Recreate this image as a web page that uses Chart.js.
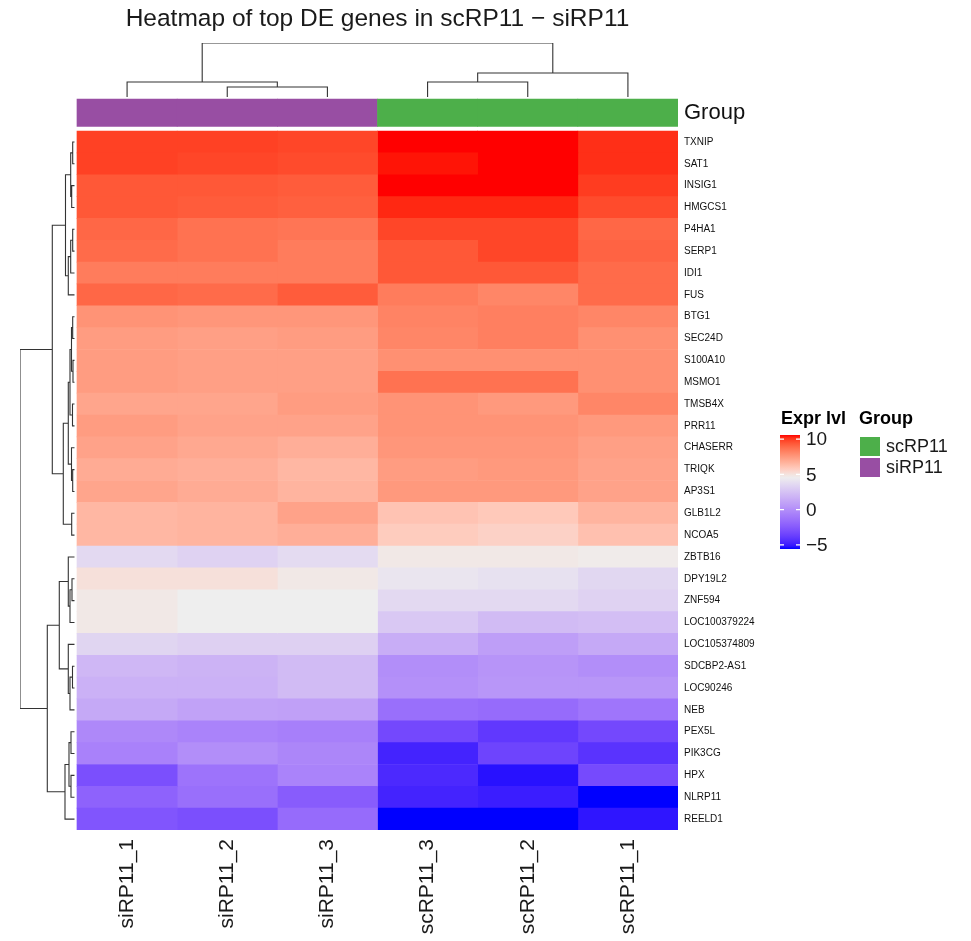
<!DOCTYPE html>
<html><head><meta charset="utf-8">
<script src="https://cdn.jsdelivr.net/npm/chart.js@4/dist/chart.umd.min.js"></script>
<style>html,body{margin:0;padding:0;background:#fff}canvas{display:block}</style>
</head><body>
<canvas id="c" width="971" height="941"></canvas>
<script>
// ---------------- data ----------------
const chartTitle = "Heatmap of top DE genes in scRP11 \u2212 siRP11";
const genes = ["TXNIP","SAT1","INSIG1","HMGCS1","P4HA1","SERP1","IDI1","FUS","BTG1","SEC24D","S100A10","MSMO1","TMSB4X","PRR11","CHASERR","TRIQK","AP3S1","GLB1L2","NCOA5","ZBTB16","DPY19L2","ZNF594","LOC100379224","LOC105374809","SDCBP2-AS1","LOC90246","NEB","PEX5L","PIK3CG","HPX","NLRP11","REELD1"];
const samples = ["siRP11_1","siRP11_2","siRP11_3","scRP11_3","scRP11_2","scRP11_1"];
const sampleGroups = ["siRP11","siRP11","siRP11","scRP11","scRP11","scRP11"];
const groupNames = ["scRP11","siRP11"];
const groupColors = ["#4DAF4A","#984EA3"];

const siRP11_1 = [9.9,9.9,9.4,9.4,9.0,8.9,8.4,9.0,7.7,7.4,7.4,7.4,7.1,7.4,7.2,6.9,7.1,6.5,6.5,3.6,5.1,4.8,4.8,3.4,2.0,1.7,1.3,-0.3,-0.6,-3.0,-2.1,-2.7];
const siRP11_2 = [9.9,9.8,9.4,9.3,8.7,8.7,8.4,8.9,7.6,7.3,7.3,7.3,7.1,7.2,7.0,6.8,6.9,6.6,6.6,3.3,5.1,4.6,4.6,3.2,1.8,1.7,1.0,-0.5,0.0,-1.3,-1.5,-3.0];
const siRP11_3 = [9.8,9.7,9.3,9.2,8.6,8.4,8.4,9.3,7.6,7.4,7.3,7.3,7.4,7.2,6.8,6.5,6.6,7.2,6.8,3.7,4.8,4.6,4.6,3.2,2.2,2.2,0.9,-0.7,-0.4,-0.5,-2.4,-1.7];
const scRP11_3 = [10.6,10.5,10.6,10.3,9.8,9.4,9.4,8.4,8.2,8.1,7.8,8.7,7.7,7.7,7.6,7.4,7.5,6.1,5.8,4.8,4.2,3.6,2.8,1.5,0.0,0.1,-1.5,-3.3,-4.8,-4.6,-4.8,-5.6];
const scRP11_2 = [10.6,10.6,10.6,10.3,9.8,9.8,9.4,8.1,8.3,8.3,7.8,8.7,7.5,7.7,7.6,7.5,7.5,5.9,5.6,4.8,4.0,3.6,2.2,0.8,0.3,0.4,-1.7,-4.0,-3.5,-5.3,-5.0,-5.6];
const scRP11_1 = [10.2,10.2,10.0,9.7,9.0,9.1,8.9,8.9,8.1,7.8,7.8,7.8,8.1,7.5,7.3,7.2,7.2,6.6,6.2,4.7,3.5,3.3,2.3,1.3,0.0,0.4,-1.2,-3.3,-4.2,-3.2,-5.6,-5.2];
const sampleValues = [siRP11_1, siRP11_2, siRP11_3, scRP11_3, scRP11_2, scRP11_1];

// colour mapping (breaks -> colours), legend ticks
const colorBreaks = [-5.6, 4.6, 10.6];
const colorStops = ["#0000FF", "#EEEEEE", "#FF0000"];
const legendTicks = [10, 5, 0, -5];
const legendTitle = "Expr lvl";
const groupLegendTitle = "Group";

// row dendrogram (hclust style merge matrix: negative = leaf in display order, positive = earlier merge)
const rowMerge = [[-1,-2],[-3,-4],[1,2],[-5,-6],[4,-7],[5,-8],[3,6],[-9,-10],[-11,-12],[8,9],[-13,-14],[10,11],[-16,-17],[-15,13],[12,14],[-18,-19],[15,16],[7,17],
  [-21,-22],[19,-23],[-20,20],[-25,-26],[22,-27],[-24,23],[21,24],[-28,-29],[-30,-31],[26,27],[28,-32],[25,29],[18,30]];
const rowHeight = [1.8,2.8,3.8,1.8,3.8,6.2,9,1.8,1.5,3,2,4.5,1.8,3,6.2,2.8,11.2,22.2,
  2.5,4.5,6.2,2,4.5,6.2,15.2,3.5,3.5,5.5,9.5,27.2,54.5];
// column dendrogram
const colMerge = [[-2,-3],[-1,1],[-4,-5],[3,-6],[2,4]];
const colHeight = [10,15,15,24,54];

// ---------------- colour helpers (LAB interpolation) ----------------
function hex2rgb(h){h=h.replace('#','');return [parseInt(h.slice(0,2),16),parseInt(h.slice(2,4),16),parseInt(h.slice(4,6),16)];}
function s2l(c){c/=255;return c<=0.04045?c/12.92:Math.pow((c+0.055)/1.055,2.4);}
function l2s(c){const v=c<=0.0031308?12.92*c:1.055*Math.pow(c,1/2.4)-0.055;return Math.round(Math.max(0,Math.min(1,v))*255);}
function rgb2lab(rgb){const R=s2l(rgb[0]),G=s2l(rgb[1]),B=s2l(rgb[2]);
  const X=(0.4124564*R+0.3575761*G+0.1804375*B)/0.95047,Y=(0.2126729*R+0.7151522*G+0.0721750*B),Z=(0.0193339*R+0.1191920*G+0.9503041*B)/1.08883;
  const f=t=>t>216/24389?Math.cbrt(t):(24389/27*t+16)/116;const fx=f(X),fy=f(Y),fz=f(Z);
  return [116*fy-16,500*(fx-fy),200*(fy-fz)];}
function lab2rgb(lab){const fy=(lab[0]+16)/116,fx=fy+lab[1]/500,fz=fy-lab[2]/200;
  const fi=t=>{const t3=t*t*t;return t3>216/24389?t3:(116*t-16)/(24389/27);};
  const X=fi(fx)*0.95047,Y=fi(fy),Z=fi(fz)*1.08883;
  return [l2s(3.2404542*X-1.5371385*Y-0.4985314*Z),l2s(-0.9692660*X+1.8760108*Y+0.0415560*Z),l2s(0.0556434*X-0.2040259*Y+1.0572252*Z)];}
const stopLab = colorStops.map(c=>rgb2lab(hex2rgb(c)));
function colorFor(v){
  v=Math.max(colorBreaks[0],Math.min(colorBreaks[colorBreaks.length-1],v));
  let k=0; while(k<colorBreaks.length-2 && v>colorBreaks[k+1]) k++;
  const t=(v-colorBreaks[k])/(colorBreaks[k+1]-colorBreaks[k]);
  const a=stopLab[k],b=stopLab[k+1];
  const c=lab2rgb([a[0]+(b[0]-a[0])*t,a[1]+(b[1]-a[1])*t,a[2]+(b[2]-a[2])*t]);
  return 'rgb('+c[0]+','+c[1]+','+c[2]+')';
}

// ---------------- layout in scale units ----------------
const nRow = genes.length, nCol = samples.length;
const X_MIN = -0.569;          // left end of row dendrogram (in column units)
const ROW_GAP = 0.025;         // gap between row dendrogram and body
const Y_MIN = -4.03;           // top end of column dendrogram (in row units)
const COL_DEND_BASE = -1.557;  // leaves of column dendrogram
const ANNOT_Y = -0.835;        // centre of group annotation bar
const FONT = "'Liberation Sans', Arial, Helvetica, sans-serif";

// dendrogram -> line points
function dendroPoints(merge, heights, leafPos, toPoint){
  const pos=[], hh=[], pts=[];
  const info = id => id<0 ? [leafPos(-id-1),0] : [pos[id-1],hh[id-1]];
  merge.forEach((m,i)=>{
    const a=info(m[0]), b=info(m[1]), h=heights[i];
    pts.push(toPoint(a[0],a[1]),toPoint(a[0],h),toPoint(b[0],h),toPoint(b[0],b[1]),{x:null,y:null});
    pos.push((a[0]+b[0])/2); hh.push(h);
  });
  return pts;
}
const rowHMax = Math.max(...rowHeight), colHMax = Math.max(...colHeight);
const rowDendro = dendroPoints(rowMerge,rowHeight,i=>i+0.5,(p,h)=>({x:-ROW_GAP-h/rowHMax*(-X_MIN-ROW_GAP),y:p}));
const colDendro = dendroPoints(colMerge,colHeight,i=>i+0.5,(p,h)=>({x:p,y:COL_DEND_BASE-h/colHMax*(COL_DEND_BASE-Y_MIN)}));

// ---------------- datasets ----------------
const datasets = [];
sampleValues.forEach((vals,c)=>{
  datasets.push({type:'bar',indexAxis:'y',grouped:false,categoryPercentage:1,barPercentage:1,borderWidth:0,
    data: vals.map((v,r)=>({x:[c,c+1],y:r+0.5})),
    backgroundColor: vals.map(v=>colorFor(v))});
});
datasets.push({type:'bar',indexAxis:'y',grouped:false,barThickness:27.5,borderWidth:0,
  data: samples.map((s,c)=>({x:[c,c+1],y:ANNOT_Y})),
  backgroundColor: sampleGroups.map(g=>groupColors[groupNames.indexOf(g)])});
datasets.push({type:'scatter',showLine:true,data:rowDendro,borderColor:'#333',borderWidth:1.1,pointRadius:0,spanGaps:false});
datasets.push({type:'scatter',showLine:true,data:colDendro,borderColor:'#333',borderWidth:1.1,pointRadius:0,spanGaps:false});

// ---------------- plugins: title + legends ----------------
const decor = {
  id:'decor',
  beforeDraw(chart){const ctx=chart.ctx;ctx.save();ctx.fillStyle='#fff';ctx.fillRect(0,0,chart.width,chart.height);ctx.restore();},
  afterDraw(chart){
    const ctx=chart.ctx, xs=chart.scales.x, ca=chart.chartArea;
    ctx.save();
    ctx.fillStyle='#1a1a1a';
    ctx.font='24.5px '+FONT; ctx.textAlign='center'; ctx.textBaseline='middle';
    ctx.fillText(chartTitle, xs.getPixelForValue(nCol/2), 19);
    // colour bar legend
    const lx = ca.right+102, ltop = 435, lh = 114, lw = 20;
    const vmin=colorBreaks[0], vmax=colorBreaks[colorBreaks.length-1];
    const vy = v => ltop + (vmax-v)/(vmax-vmin)*lh;
    ctx.textAlign='left';
    ctx.font='bold 18px '+FONT; ctx.fillStyle='#000';
    ctx.fillText(legendTitle, lx+1, 419);
    const grad = ctx.createLinearGradient(0,ltop,0,ltop+lh);
    for(let i=0;i<=40;i++){const v=vmax-(vmax-vmin)*i/40;grad.addColorStop(i/40,colorFor(v));}
    ctx.fillStyle=grad; ctx.fillRect(lx,ltop,lw,lh);
    ctx.strokeStyle='#fff'; ctx.lineWidth=1.2;
    ctx.font='19px '+FONT;
    legendTicks.forEach(t=>{
      const y=vy(t);
      ctx.beginPath(); ctx.moveTo(lx,y); ctx.lineTo(lx+4,y); ctx.moveTo(lx+lw-4,y); ctx.lineTo(lx+lw,y); ctx.stroke();
      ctx.fillStyle='#1a1a1a';
      ctx.fillText(t<0?'\u2212'+Math.abs(t):String(t), lx+lw+6, y+1);
    });
    // group legend
    const gx = ca.right+182;
    ctx.font='bold 18px '+FONT; ctx.fillStyle='#000';
    ctx.fillText(groupLegendTitle, gx-1, 419);
    ctx.font='18px '+FONT;
    groupNames.forEach((g,i)=>{
      const y=437+i*21;
      ctx.fillStyle=groupColors[i]; ctx.fillRect(gx,y,20,19);
      ctx.fillStyle='#1a1a1a'; ctx.fillText(g, gx+26, y+10);
    });
    ctx.restore();
  }
};

function zeroPad(s){s.paddingLeft=0;s.paddingRight=0;s.paddingTop=0;s.paddingBottom=0;}

new Chart(document.getElementById('c'),{
  type:'bar',
  data:{datasets},
  options:{
    responsive:false, animation:false, devicePixelRatio:1,
    layout:{padding:{left:20,top:43,right:971-678-90,bottom:941-830-105}},
    plugins:{legend:{display:false},tooltip:{enabled:false},title:{display:false}},
    scales:{
      x:{type:'linear',offset:false,min:X_MIN,max:nCol,position:'bottom',
        grid:{display:false,drawTicks:false,offset:false},border:{display:false},
        afterBuildTicks:s=>{s.ticks=samples.map((_,i)=>({value:i+0.5}));},
        afterFit:s=>{s.height=105;zeroPad(s);},
        ticks:{autoSkip:false,minRotation:90,maxRotation:90,padding:9,color:'#1a1a1a',
          font:{family:FONT,size:21},callback:(v,i)=>samples[i]}},
      y:{type:'linear',offset:false,reverse:true,min:Y_MIN,max:nRow,position:'right',beginAtZero:false,
        grid:{display:false,drawTicks:false,offset:false},border:{display:false},
        afterBuildTicks:s=>{s.ticks=[{value:ANNOT_Y}].concat(genes.map((_,i)=>({value:i+0.5})));},
        afterFit:s=>{s.width=90;zeroPad(s);},
        ticks:{autoSkip:false,padding:6,color:'#111',
          font:ctx=>ctx.index===0?{family:FONT,size:22}:{family:FONT,size:10},
          callback:(v,i)=>i===0?'Group':genes[i-1]}}
    }
  },
  plugins:[decor]
});
</script>
</body></html>
